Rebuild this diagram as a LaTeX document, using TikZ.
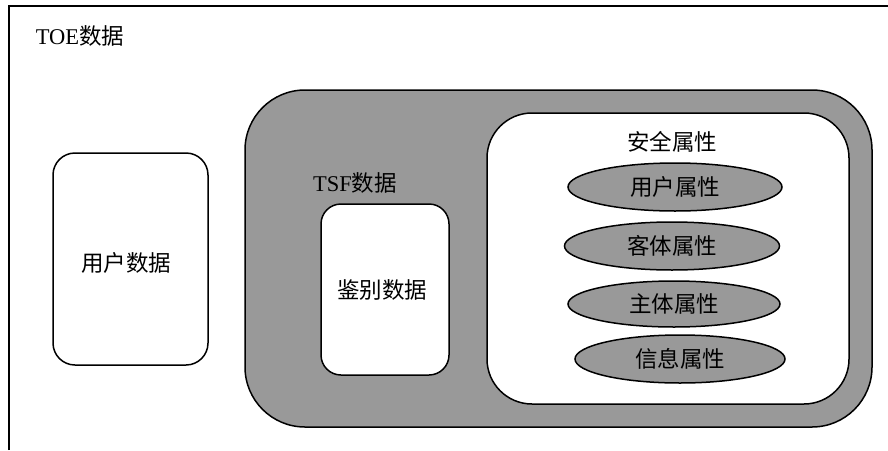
\documentclass[tikz,border=0pt]{standalone}
\usepackage{fontspec}
\setmainfont{Liberation Serif}
\newfontfamily\cjk{Noto Sans CJK SC}
\usetikzlibrary{shapes.geometric}
\definecolor{fillgray}{RGB}{153,153,153}
\tikzset{
  txt/.style={font=\fontsize{22.5}{26}\selectfont, inner sep=0pt},
  whitebox/.style={draw, line width=1.5pt, fill=white, inner sep=0pt, font=\fontsize{22.5}{26}\selectfont\cjk},
  graybox/.style={draw, line width=1.5pt, fill=fillgray, inner sep=0pt},
  attr/.style={draw, ellipse, line width=1.5pt, fill=fillgray, inner sep=0pt, font=\fontsize{22.5}{26}\selectfont\cjk}
}
\begin{document}
\begin{tikzpicture}[x=1pt,y=-1pt]
\useasboundingbox (0,0) rectangle (888,450);
\coordinate (fbl) at (9,450);
\coordinate (ftl) at (9,6);
\coordinate (ftr) at (888,6);
\draw[line width=2pt] (fbl) -- (ftl) -- (ftr);
\node[txt] (toe) at (80,36) {TOE{\cjk 数据}};
\node[whitebox, rounded corners=22pt, minimum width=155pt, minimum height=212pt] (user) at (130.5,259) {};
\node[txt, font=\fontsize{22.5}{26}\selectfont\cjk] (userlabel) at (126,263) {用户数据};
\node[graybox, rounded corners=60pt, minimum width=627pt, minimum height=337pt] (tsf) at (558.5,258.5) {};
\node[txt] (tsflabel) at (355,183) {TSF{\cjk 数据}};
\node[whitebox, rounded corners=20pt, minimum width=128pt, minimum height=171pt] (auth) at (385,289.5) {};
\node[txt, font=\fontsize{22.5}{26}\selectfont\cjk] (authlabel) at (382,290) {鉴别数据};
\node[whitebox, rounded corners=45pt, minimum width=362pt, minimum height=291pt] (sec) at (668,258.5) {};
\node[txt, font=\fontsize{22.5}{26}\selectfont\cjk] (seclabel) at (672,142) {安全属性};
\node[attr, minimum width=214pt, minimum height=48pt] (a1) at (675,187) {用户属性};
\node[attr, minimum width=215pt, minimum height=48pt] (a2) at (672,246) {客体属性};
\node[attr, minimum width=212pt, minimum height=46pt] (a3) at (674,304) {主体属性};
\node[attr, minimum width=210pt, minimum height=48pt] (a4) at (680,359) {信息属性};
\end{tikzpicture}
\end{document}
